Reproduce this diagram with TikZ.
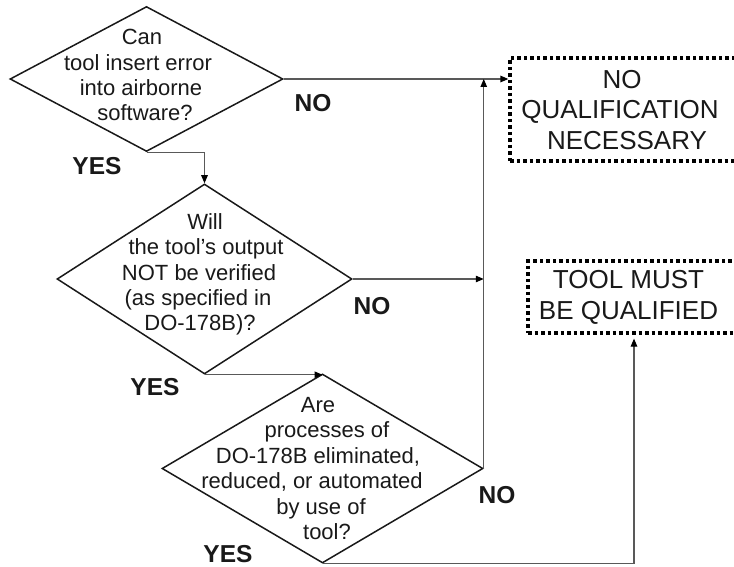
\documentclass[tikz,border=0pt]{standalone}
\usepackage{fontspec}
\setmainfont{Liberation Sans}
\usetikzlibrary{shapes.geometric,arrows.meta}
% one centred line of a multi-line label, nudged sideways by half of #1
\newcommand\qline[2]{\makebox[0pt]{\hspace*{#1pt}#2}}

\begin{document}
\begin{tikzpicture}[x=1pt,y=-1pt,
  decision/.style={shape=diamond, draw=black!90, line width=1.5pt, inner sep=0pt},
  outcome/.style={draw=black, line width=3.2pt, dash pattern=on 3.5pt off 3pt, inner sep=0pt},
  question/.style={align=center, font=\fontsize{22}{25.4}\selectfont, inner sep=0pt, text=black!90},
  verdict/.style={align=center, font=\fontsize{26}{30.5}\selectfont, inner sep=0pt, text=black!90},
  answer/.style={font=\fontsize{24.5}{28}\selectfont\bfseries, inner sep=0pt, text=black!90},
  flow/.style={draw=black!65, line width=1.2pt, -{Triangle[length=8pt,width=6.5pt,color=black]}}
]
\useasboundingbox (0,0) rectangle (734,567);

% decision diamonds
\node[decision, minimum width=273, minimum height=145] (d1) at (146.5,79) {};
\node[decision, minimum width=295, minimum height=190] (d2) at (204.5,279) {};
\node[decision, minimum width=321, minimum height=189] (d3) at (322.5,468.5) {};

\node[question] (q1) at (141,75.3) {\qline{2}{Can}\\\qline{-6}{tool insert error}\\\qline{0}{into airborne}\\\qline{8}{software?}};
\node[question] (q2) at (202,274.5) {\qline{6}{Will}\\\qline{8}{the tool’s output}\\\qline{-6}{NOT be verified}\\\qline{-8}{(as specified in}\\\qline{-4}{DO-178B)?}};
\node[question] (q3) at (320,468.5) {\qline{-4}{Are}\\\qline{14}{processes of}\\\qline{-4}{DO-178B eliminated,}\\\qline{-16}{reduced, or automated}\\\qline{2}{by use of}\\\qline{14}{tool?}};

% outcome boxes (their right sides run past the page edge)
\node[outcome, minimum width=230, minimum height=103] (b1) at (625,109.5) {};
\node[outcome, minimum width=212, minimum height=72] (b2) at (634,297) {};

\node[verdict] (v1) at (621,110) {\qline{2}{NO}\\\qline{-2}{QUALIFICATION}\\\qline{12}{NECESSARY}};
\node[verdict] (v2) at (628.5,297.5) {TOOL MUST\\BE QUALIFIED};

% branch labels
\node[answer] (no1) at (313,103.5) {NO};
\node[answer] (yes1) at (97,166.5) {YES};
\node[answer] (no2) at (372,306) {NO};
\node[answer] (yes2) at (155,387) {YES};
\node[answer] (no3) at (497,495.5) {NO};
\node[answer] (yes3) at (228,554) {YES};

% connectors
\draw[flow] (d1.south) -| (d2.north);
\draw[flow] (d1.east) -- (d1.east -| b1.west);
\draw[flow] (d2.east) -- (d2.east -| d3.east);
\draw[flow] (d3.east) -- (d3.east |- d1.east);
\draw[flow] (d2.south) -- (d2.south -| d3.north);
\draw[flow, shorten >=4pt] (d3.south) -| (b2.south);
\end{tikzpicture}
\end{document}
